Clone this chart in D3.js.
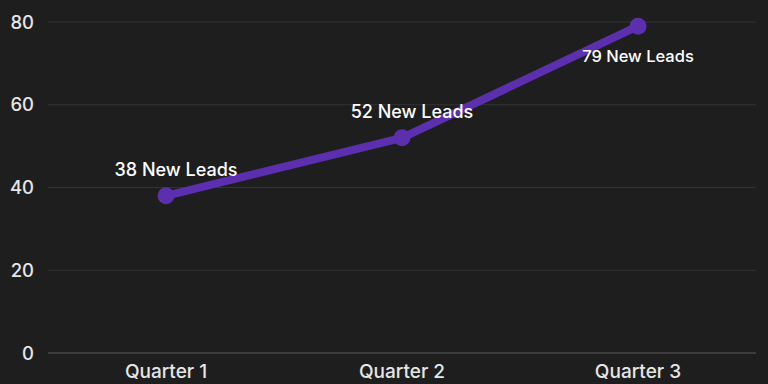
<!DOCTYPE html>
<html>
<head>
<meta charset="utf-8">
<script src="https://cdn.jsdelivr.net/npm/d3@7"></script>
<style>
  body { margin: 0; background: #1e1e1e; }
  svg { display: block; font-family: Inter, sans-serif; }
</style>
</head>
<body>
<svg id="chart" width="768" height="384"></svg>
<script>
var quarters = ["Quarter 1", "Quarter 2", "Quarter 3"];
var leads = [38, 52, 79];
var yTicks = [0, 20, 40, 60, 80];

var width = 768, height = 384;
var margin = {top: 22, right: 12, bottom: 31, left: 48};

var svg = d3.select("#chart");
svg.append("rect").attr("width", width).attr("height", height).attr("fill", "#1e1e1e");

var x = d3.scaleBand()
    .domain(quarters)
    .range([margin.left, width - margin.right]);

var y = d3.scaleLinear()
    .domain([0, 80])
    .range([height - margin.bottom, margin.top]);

function cx(d) { return x(d.q) + x.bandwidth() / 2; }

// gridlines
svg.append("g").selectAll("line")
    .data(yTicks)
    .enter().append("line")
    .attr("x1", margin.left)
    .attr("x2", width - margin.right)
    .attr("y1", function(d) { return y(d); })
    .attr("y2", function(d) { return y(d); })
    .attr("stroke", function(d) { return d === 0 ? "#5a5a5a" : "#333333"; })
    .attr("stroke-width", 1);

// y labels
svg.append("g").selectAll("text")
    .data(yTicks)
    .enter().append("text")
    .attr("x", 34)
    .attr("y", function(d) { return y(d); })
    .attr("dy", "0.36em")
    .attr("text-anchor", "end")
    .attr("fill", "#e6e6e6")
    .attr("font-size", 18.5)
    .attr("font-weight", 500)
    .text(function(d) { return d; });

// x labels
svg.append("g").selectAll("text")
    .data(quarters)
    .enter().append("text")
    .attr("x", function(d) { return x(d) + x.bandwidth() / 2; })
    .attr("y", height - 6)
    .attr("text-anchor", "middle")
    .attr("fill", "#e6e6e6")
    .attr("font-size", 19)
    .attr("font-weight", 500)
    .text(function(d) { return d; });

var pts = quarters.map(function(q, i) { return {q: q, v: leads[i]}; });

var line = d3.line()
    .x(cx)
    .y(function(d) { return y(d.v); });

svg.append("path")
    .attr("d", line(pts))
    .attr("fill", "none")
    .attr("stroke", "#5b2fae")
    .attr("stroke-width", 8)
    .attr("stroke-linejoin", "round");

svg.append("g").selectAll("circle")
    .data(pts)
    .enter().append("circle")
    .attr("cx", cx)
    .attr("cy", function(d) { return y(d.v); })
    .attr("r", 8.5)
    .attr("fill", "#5b2fae");

// data labels: above the point, or below (and smaller) when near the top
svg.append("g").selectAll("text")
    .data(pts)
    .enter().append("text")
    .attr("x", function(d) { return cx(d) + (d.v > 70 ? 0 : 10); })
    .attr("y", function(d) { return y(d.v) + (d.v > 70 ? 36 : -20); })
    .attr("text-anchor", "middle")
    .attr("fill", "#ffffff")
    .attr("font-size", function(d) { return d.v > 70 ? 16.5 : 18; })
    .attr("font-weight", 500)
    .text(function(d) { return d.v + " New Leads"; });
</script>
</body>
</html>
